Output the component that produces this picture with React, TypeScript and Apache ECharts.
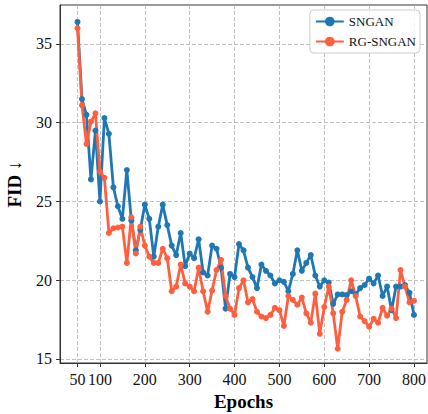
import React, { useEffect, useRef } from "react";
import * as echarts from "echarts";

const epochs = [
  50, 60, 70, 80, 90, 100, 110, 120, 130, 140, 150, 160, 170, 180, 190, 200,
  210, 220, 230, 240, 250, 260, 270, 280, 290, 300, 310, 320, 330, 340, 350,
  360, 370, 380, 390, 400, 410, 420, 430, 440, 450, 460, 470, 480, 490, 500,
  510, 520, 530, 540, 550, 560, 570, 580, 590, 600, 610, 620, 630, 640, 650,
  660, 670, 680, 690, 700, 710, 720, 730, 740, 750, 760, 770, 780, 790, 800,
];

const sngan = [
  36.4, 31.5, 30.5, 26.4, 29.5, 25.0, 30.3, 29.3, 25.9, 24.7, 23.9, 27.0,
  23.8, 21.9, 23.2, 24.8, 23.9, 21.5, 23.4, 24.8, 23.5, 22.2, 21.6, 23.0,
  20.9, 21.7, 21.4, 22.6, 20.5, 20.3, 22.2, 22.0, 20.8, 18.2, 20.4, 20.2,
  22.3, 21.9, 20.8, 20.2, 19.5, 21.0, 20.6, 20.3, 19.8, 20.0, 19.9, 19.3,
  20.4, 21.9, 20.6, 21.1, 21.6, 20.3, 19.6, 20.0, 19.85, 18.5, 19.1, 19.1,
  19.06, 19.3, 19.1, 19.5, 19.7, 20.1, 19.8, 20.3, 19.0, 19.6, 18.1, 19.6,
  19.6, 19.7, 19.2, 17.8,
];

const rgSngan = [
  36.0, 31.1, 28.65, 30.07, 30.6, 26.9, 26.5, 23.0, 23.3, 23.35, 23.4, 21.1,
  24.0, 21.7, 23.4, 22.2, 21.5, 21.1, 21.1, 22.0, 21.4, 19.3, 19.6, 21.0,
  19.8, 19.6, 19.3, 20.8, 19.3, 18.0, 19.35, 20.65, 21.3, 19.0, 18.2, 17.8,
  19.5, 20.0, 18.6, 18.8, 18.0, 17.7, 17.6, 17.8, 18.25, 18.1, 17.1, 19.0,
  18.75, 18.45, 18.9, 17.9, 17.3, 19.15, 16.6, 18.3, 19.6, 17.9, 15.65, 18.0,
  18.75, 20.0, 19.0, 17.7, 17.4, 17.05, 17.55, 17.3, 18.25, 17.75, 18.2,
  17.6, 20.65, 19.6, 18.6, 18.7,
];

const xTicks = [50, 100, 200, 300, 400, 500, 600, 700, 800];
const yTicks = [15, 20, 25, 30, 35];

const seriesNames = ["SNGAN", "RG-SNGAN"];
const colors = ["#1f77b4", "#ff5f3f"];

const FONT = '"Liberation Serif", "Times New Roman", serif';

export default function App() {
  const ref = useRef<HTMLDivElement>(null);

  useEffect(() => {
    if (!ref.current) return;
    const chart = echarts.init(ref.current, undefined, { renderer: "svg" });
    const gridLine = { show: true, lineStyle: { color: "#b0b0b0", type: [4, 2], width: 0.8 } };
    chart.setOption({
      animation: false,
      backgroundColor: "#ffffff",
      grid: {
        left: 60,
        top: 5,
        width: 367,
        height: 358,
        containLabel: false,
        outerBoundsMode: "none",
        show: true,
        borderColor: "#333",
        borderWidth: 1,
        backgroundColor: "transparent",
      },
      legend: {
        orient: "vertical",
        right: 8,
        top: 10,
        itemWidth: 28,
        itemHeight: 12,
        itemGap: 7,
        padding: [5, 4, 5, 5],
        borderColor: "#cccccc",
        borderWidth: 1,
        borderRadius: 4,
        backgroundColor: "rgba(255,255,255,0.85)",
        textStyle: { fontFamily: FONT, fontSize: 13, color: "#111" },
        data: seriesNames,
      },
      xAxis: {
        type: "value",
        min: 11,
        max: 829,
        name: "Epochs",
        nameLocation: "middle",
        nameGap: 28,
        nameTextStyle: { fontFamily: FONT, fontSize: 19, fontWeight: "bold", color: "#000" },
        axisLine: { show: true, lineStyle: { color: "#333", width: 1 } },
        axisTick: { show: true, inside: false, length: 4, customValues: xTicks, lineStyle: { color: "#333" } },
        axisLabel: { customValues: xTicks, margin: 8, fontFamily: FONT, fontSize: 16, color: "#111" },
        splitLine: gridLine,
      },
      yAxis: {
        type: "value",
        min: 14.746,
        max: 37.476,
        name: "FID ↓",
        nameLocation: "middle",
        nameGap: 36,
        nameRotate: 90,
        nameTextStyle: { fontFamily: FONT, fontSize: 19, fontWeight: "bold", color: "#000" },
        axisLine: { show: true, lineStyle: { color: "#333", width: 1 } },
        axisTick: { show: true, inside: false, length: 4, customValues: yTicks, lineStyle: { color: "#333" } },
        axisLabel: { customValues: yTicks, margin: 8, fontFamily: FONT, fontSize: 16, color: "#111" },
        splitLine: gridLine,
      },
      series: [sngan, rgSngan].map((vals, i) => ({
        name: seriesNames[i],
        type: "line",
        data: epochs.map((e, j) => [e, vals[j]]),
        symbol: "circle",
        symbolSize: 6,
        showSymbol: true,
        lineStyle: { color: colors[i], width: 2.8 },
        itemStyle: { color: colors[i] },
        color: colors[i],
      })),
    });
    return () => chart.dispose();
  }, []);

  return (
    <div
      ref={ref}
      style={{ position: "fixed", left: 0, top: 0, width: 428, height: 414 }}
    />
  );
}
